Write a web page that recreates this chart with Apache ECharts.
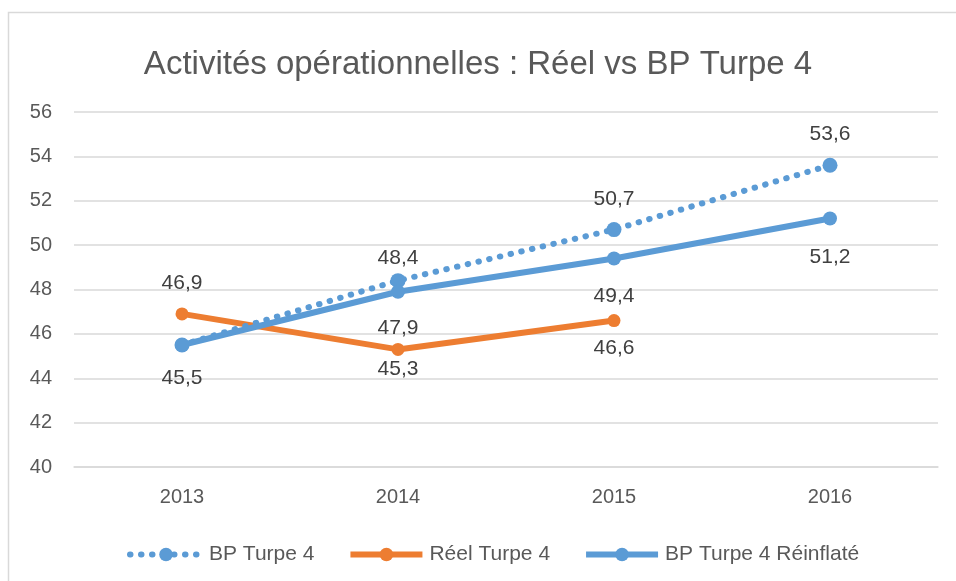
<!DOCTYPE html>
<html>
<head>
<meta charset="utf-8">
<script src="https://cdn.jsdelivr.net/npm/echarts@6/dist/echarts.min.js"></script>
<style>
  html, body { margin: 0; padding: 0; background: #ffffff; }
  #chart { width: 956px; height: 581px; }
</style>
</head>
<body>
<div id="chart"></div>
<script>
// Years on the category axis
const years = ['2013', '2014', '2015', '2016'];
// Business plan Turpe 4 (dotted)
const bpTurpe4 = [45.5, 48.4, 50.7, 53.6];
// Actuals (no 2016 value yet)
const reelTurpe4 = [46.9, 45.3, 46.6, null];
// Business plan re-inflated
const bpReinflate = [45.5, 47.9, 49.4, 51.2];
// Value axis range
const yMin = 40, yMax = 56, yStep = 2;

const FONT = '"Liberation Sans", sans-serif';
const BLUE = '#5B9BD5';
const ORANGE = '#ED7D31';
const fmt = v => String(v).replace('.', ',');

// Per-point label placement: above or below the marker
function withLabels(values, placements) {
  return values.map((v, i) => {
    if (v === null) return null;
    const p = placements[i];
    if (!p) return { value: v, label: { show: false } };
    return { value: v, label: { show: true, position: p[0], distance: p[1] } };
  });
}

const chart = echarts.init(document.getElementById('chart'), null, { renderer: 'canvas' });

const labelStyle = {
  color: '#404040',
  fontFamily: FONT,
  fontSize: 21,
  formatter: p => fmt(p.value)
};

const dotted = { color: BLUE, width: 6, type: [0.5, 10.5], cap: 'round' };
const solidOrange = { color: ORANGE, width: 6 };
const solidBlue = { color: BLUE, width: 6 };

chart.setOption({
  backgroundColor: '#ffffff',
  animation: false,
  title: {
    text: 'Activités opérationnelles : Réel vs BP Turpe 4',
    left: 'center',
    top: 43,
    textStyle: { color: '#595959', fontFamily: FONT, fontSize: 33, fontWeight: 'normal' }
  },
  graphic: [{
    type: 'rect',
    shape: { x: 8.5, y: 12.5, width: 960, height: 600 },
    style: { fill: 'none', stroke: '#D9D9D9', lineWidth: 1.5 },
    silent: true
  }],
  legend: {
    left: 122,
    top: 539,
    itemWidth: 72,
    itemHeight: 17,
    itemGap: 33,
    textStyle: { color: '#595959', fontFamily: FONT, fontSize: 21, padding: [0, 0, 0, 2] },
    data: [
      { name: 'BP Turpe 4', lineStyle: dotted },
      { name: 'Réel Turpe 4', lineStyle: solidOrange },
      { name: 'BP Turpe 4 Réinflaté', lineStyle: solidBlue }
    ]
  },
  grid: { left: 74, right: 18, top: 112, bottom: 114 },
  xAxis: {
    type: 'category',
    data: years,
    boundaryGap: true,
    axisLine: { lineStyle: { color: '#D9D9D9', width: 1.5 } },
    axisTick: { show: false },
    axisLabel: { color: '#595959', fontFamily: FONT, fontSize: 20, margin: 20 }
  },
  yAxis: {
    type: 'value',
    min: yMin,
    max: yMax,
    interval: yStep,
    axisLine: { show: false },
    axisTick: { show: false },
    axisLabel: { color: '#595959', fontFamily: FONT, fontSize: 20, margin: 22 },
    splitLine: { lineStyle: { color: '#D9D9D9', width: 1.5 } }
  },
  series: [
    {
      name: 'BP Turpe 4',
      type: 'line',
      z: 3,
      data: withLabels(bpTurpe4, [null, ['top', 4], ['top', 12], ['top', 13]]),
      symbol: 'circle',
      symbolSize: 15,
      itemStyle: { color: BLUE },
      lineStyle: dotted,
      label: labelStyle
    },
    {
      name: 'Réel Turpe 4',
      type: 'line',
      z: 2,
      data: withLabels(reelTurpe4, [['top', 14], ['bottom', 3], ['bottom', 11], null]),
      symbol: 'circle',
      symbolSize: 13,
      itemStyle: { color: ORANGE },
      lineStyle: solidOrange,
      label: labelStyle
    },
    {
      name: 'BP Turpe 4 Réinflaté',
      type: 'line',
      z: 4,
      data: withLabels(bpReinflate, [['bottom', 16], ['bottom', 19], ['bottom', 20], ['bottom', 21]]),
      symbol: 'circle',
      symbolSize: 14,
      itemStyle: { color: BLUE },
      lineStyle: solidBlue,
      label: labelStyle
    }
  ]
});
</script>
</body>
</html>
